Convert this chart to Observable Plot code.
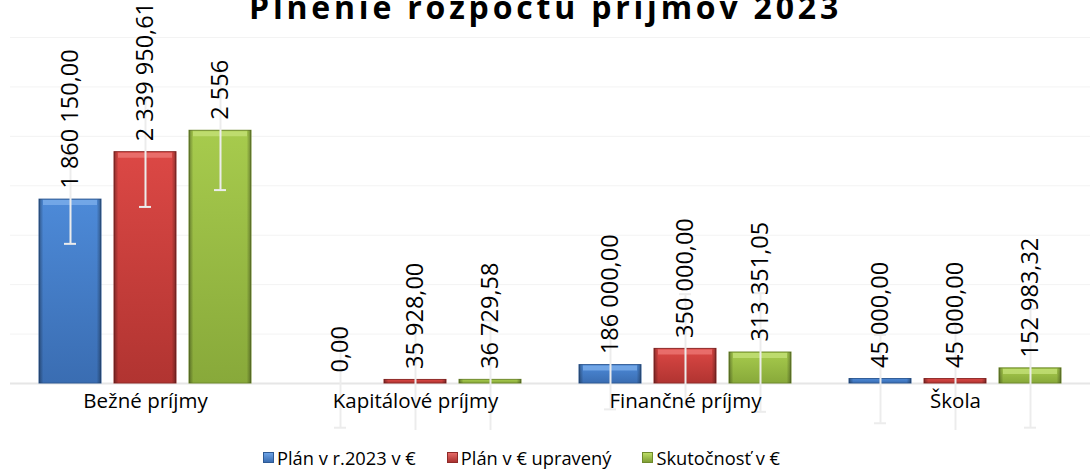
<!DOCTYPE html>
<html><head><meta charset="utf-8">
<script src="https://cdn.jsdelivr.net/npm/d3@7"></script>
<script src="https://cdn.jsdelivr.net/npm/@observablehq/plot@0.6"></script>
<style>
html,body{margin:0;padding:0;background:#fff;}
body{width:1091px;height:475px;overflow:hidden;position:relative;font-family:"Open Sans",sans-serif;}
#chart{position:absolute;left:0;top:0;}
#title{position:absolute;left:0;top:-13px;width:1091px;text-align:center;font-weight:bold;font-size:32px;line-height:40px;letter-spacing:3.8px;color:#000;z-index:3;white-space:nowrap;box-sizing:border-box;}
#legend{position:absolute;left:263px;top:445px;display:flex;align-items:center;gap:31px;font-size:18.3px;color:#000;white-space:nowrap;}
#legend .item{display:flex;align-items:center;}
#legend .sw{width:11px;height:11px;margin-right:3px;box-sizing:border-box;}
</style>
</head><body>
<div id="chart"></div>
<div id="title">Plnenie rozpočtu príjmov 2023</div>
<div id="legend"></div>
<script>
const categories = ["Bežné príjmy", "Kapitálové príjmy", "Finančné príjmy", "Škola"];
const series = ["Plán v r.2023 v €", "Plán v € upravený", "Skutočnosť v €"];
const planValues = [1860150.00, 0.00, 186000.00, 45000.00];
const upravenyValues = [2339950.61, 35928.00, 350000.00, 45000.00];
const skutocnostValues = [2556400.00, 36729.58, 313351.05, 152983.32];
const planLabels = ["1 860 150,00", "0,00", "186 000,00", "45 000,00"];
const upravenyLabels = ["2 339 950,61", "35 928,00", "350 000,00", "45 000,00"];
const skutocnostLabels = ["2 556", "36 729,58", "313 351,05", "152 983,32"];

const valueSets = [planValues, upravenyValues, skutocnostValues];
const labelSets = [planLabels, upravenyLabels, skutocnostLabels];
// standard error per series (Excel "Standard Error" error bars)
const errs = valueSets.map(v => d3.deviation(v) / Math.sqrt(v.length));

const data = [];
categories.forEach((c, ci) => {
  series.forEach((s, si) => {
    data.push({category: c, series: s, value: valueSets[si][ci], label: labelSets[si][ci], err: errs[si]});
  });
});

const gradIds = {"Plán v r.2023 v €": "gB", "Plán v € upravený": "gR", "Skutočnosť v €": "gG"};
const strokeCol = {"Plán v r.2023 v €": "#2e5a94", "Plán v € upravený": "#8f2a28", "Skutočnosť v €": "#6f8a2c"};
const bevelCol = {"Plán v r.2023 v €": "#7fb0ec", "Plán v € upravený": "#ee7a77", "Skutočnosť v €": "#c6e27a"};

const plot = Plot.plot({
  width: 1091,
  height: 430,
  marginTop: 37,
  marginBottom: 47,
  marginLeft: 8,
  marginRight: 0,
  style: {fontFamily: "Open Sans", fontSize: "20px", color: "#000", background: "transparent"},
  fx: {domain: categories, padding: 0, axis: null, label: null},
  x: {domain: series, paddingInner: 0.173, paddingOuter: 0.386, axis: null},
  y: {domain: [0, 3500000], axis: null},
  color: {type: "identity"},
  marks: [
    Plot.gridY({ticks: 7, stroke: "#f3f3f3", strokeOpacity: 1, strokeWidth: 1}),
    Plot.ruleY([0], {stroke: "#e6e6e6", strokeWidth: 2}),
    Plot.barY(data, {fx: "category", x: "series", y: "value",
      fill: d => `url(#${gradIds[d.series]})`, stroke: d => strokeCol[d.series], strokeWidth: 1}),
    Plot.barY(data, {fx: "category", x: "series", y: "value", fill: "url(#gEdge)"}),
    Plot.tickY(data.filter(d => d.value > 100000), {fx: "category", x: "series", y: "value",
      stroke: d => bevelCol[d.series], strokeWidth: 5, strokeOpacity: 0.75, dy: 3, insetLeft: 4, insetRight: 4}),
    Plot.ruleX(data, {fx: "category", x: "series", y1: d => d.value - d.err, y2: d => d.value + d.err,
      stroke: "#ececec", strokeWidth: 2}),
    Plot.tickY(data, {fx: "category", x: "series", y: d => d.value - d.err, stroke: "#ececec", strokeWidth: 2, insetLeft: 25, insetRight: 25}),
    Plot.tickY(data, {fx: "category", x: "series", y: d => d.value + d.err, stroke: "#ececec", strokeWidth: 2, insetLeft: 25, insetRight: 25}),
    Plot.text(data, {fx: "category", x: "series", y: "value", text: "label", rotate: -90,
      textAnchor: "start", dy: -11, fontSize: 23.5, fill: "#000"}),
    Plot.axisFx({anchor: "bottom", tickSize: 0, tickPadding: 10, fontSize: 20.5, label: null})
  ]
});

// gradient definitions
const svgSel = d3.select(plot.tagName.toLowerCase() === "svg" ? plot : plot.querySelector("svg"));
const defs = svgSel.insert("defs", ":first-child");
function vgrad(id, top, bottom) {
  const g = defs.append("linearGradient").attr("id", id).attr("x1", 0).attr("y1", 0).attr("x2", 0).attr("y2", 1);
  g.append("stop").attr("offset", 0).attr("stop-color", top);
  g.append("stop").attr("offset", 1).attr("stop-color", bottom);
}
vgrad("gB", "#4d8ad8", "#3a6db2");
vgrad("gR", "#dc4845", "#b13431");
vgrad("gG", "#a7cb4d", "#88a93a");
const ge = defs.append("linearGradient").attr("id", "gEdge").attr("x1", 0).attr("y1", 0).attr("x2", 1).attr("y2", 0);
[[0, 0.35], [0.07, 0.0], [0.93, 0.0], [1, 0.35]].forEach(([o, a]) =>
  ge.append("stop").attr("offset", o).attr("stop-color", "#000").attr("stop-opacity", a));

document.getElementById("chart").appendChild(plot);

// legend
const legendGrad = [
  "linear-gradient(to bottom,#6da3e6,#3a6db2)",
  "linear-gradient(to bottom,#e56a67,#a93230)",
  "linear-gradient(to bottom,#bcdc66,#7f9f34)"
];
const legendBorder = ["#2e5a94", "#8f2a28", "#6f8a2c"];
const leg = d3.select("#legend");
series.forEach((s, i) => {
  const it = leg.append("div").attr("class", "item");
  it.append("div").attr("class", "sw").style("background", legendGrad[i]).style("border", `1px solid ${legendBorder[i]}`);
  it.append("span").text(s);
});
</script>
</body></html>
